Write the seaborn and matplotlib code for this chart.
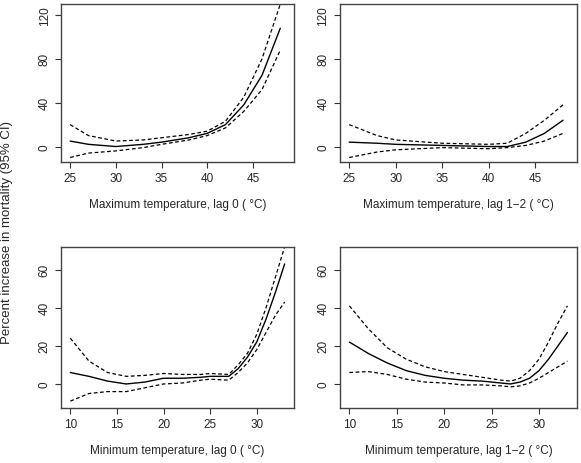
import numpy as np
import pandas as pd
import matplotlib
matplotlib.use("Agg")
import matplotlib.pyplot as plt
import seaborn as sns

# Tmax lag 0
tx0 = [25, 27, 30, 33, 35, 38, 40, 42, 44, 46, 48]
tx0_fit = [5, 2, 0, 2, 4, 8, 12, 20, 38, 65, 108]
tx0_hi = [20, 10, 5, 6, 8, 11, 14, 23, 45, 80, 130]
tx0_lo = [-10, -6, -4, -1, 2, 6, 10, 17, 32, 52, 88]

# Tmax lag 1-2
tx12 = [25, 28, 30, 35, 40, 42, 44, 46, 48]
tx12_fit = [4, 3, 2, 1, 0, 0, 4, 12, 24]
tx12_hi = [20, 10, 6, 3, 2, 3, 12, 24, 38]
tx12_lo = [-10, -5, -3, -1, -2, -1, 1, 5, 12]

# Tmin lag 0
tn0 = [10, 12, 14, 16, 18, 20, 22, 24, 25, 27, 28, 29, 30, 31, 32, 33]
tn0_fit = [6, 4, 1.5, 0, 1, 3, 3, 3.5, 4, 4, 8, 14, 22, 34, 48, 63]
tn0_hi = [24, 12, 6, 4, 4.5, 5.5, 5, 5, 5.5, 5, 10, 16, 26, 40, 56, 72]
tn0_lo = [-9, -5, -4, -4, -2, 0, 0.5, 2, 2.5, 2, 6, 11, 18, 27, 36, 43]

# Tmin lag 1-2
tn12 = [10, 12, 14, 16, 18, 20, 22, 24, 26, 27, 28, 29, 30, 31, 32, 33]
tn12_fit = [22, 16, 11, 7, 4.5, 3, 2, 1.5, 0.5, 0, 1, 3, 7, 13, 20, 27]
tn12_hi = [41, 29, 19, 13, 9, 6.5, 5, 3.5, 2, 1.5, 3, 7, 13, 22, 32, 41]
tn12_lo = [6, 6.5, 5, 2.5, 1, 0.5, -0.5, -0.5, -1, -1.5, -1, 0.5, 3, 6, 9, 12]

panels = [
    (tx0, tx0_fit, tx0_hi, tx0_lo, "Maximum temperature, lag 0 ( °C)", [0.105, 0.649, 0.401, 0.340], (-14, 130), [0, 40, 80, 120], [25, 30, 35, 40, 45], (24, 49.5)),
    (tx12, tx12_fit, tx12_hi, tx12_lo, "Maximum temperature, lag 1−2 ( °C)", [0.585, 0.649, 0.408, 0.340], (-14, 130), [0, 40, 80, 120], [25, 30, 35, 40, 45], (24, 49.5)),
    (tn0, tn0_fit, tn0_hi, tn0_lo, "Minimum temperature, lag 0 ( °C)", [0.105, 0.119, 0.401, 0.347], (-12.5, 72), [0, 20, 40, 60], [10, 15, 20, 25, 30], (9, 34)),
    (tn12, tn12_fit, tn12_hi, tn12_lo, "Minimum temperature, lag 1−2 ( °C)", [0.585, 0.119, 0.408, 0.347], (-12.5, 72), [0, 20, 40, 60], [10, 15, 20, 25, 30], (9, 34)),
]

sns.set_style("ticks")
plt.rcParams['font.family'] = ['Liberation Sans', 'DejaVu Sans']

fig = plt.figure(figsize=(5.81, 4.64), dpi=100)
for x, fit, hi, lo, xlabel, pos, ylim, yt, xt, xlim in panels:
    ax = fig.add_axes(pos)
    df = pd.DataFrame({"x": x, "fit": fit, "hi": hi, "lo": lo})
    sns.lineplot(data=df, x="x", y="fit", ax=ax, color="black", lw=1)
    sns.lineplot(data=df, x="x", y="hi", ax=ax, color="black", lw=0.9, linestyle=(0, (3, 2)))
    sns.lineplot(data=df, x="x", y="lo", ax=ax, color="black", lw=0.9, linestyle=(0, (3, 2)))
    ax.set_xlim(*xlim)
    ax.set_ylim(*ylim)
    ax.set_xticks(xt)
    ax.set_yticks(yt)
    ax.set_yticklabels([str(v) for v in yt], rotation=90, va="center")
    ax.tick_params(labelsize=8.5, length=4, color="#333333")
    ax.set_xlabel(xlabel, fontsize=8.5, labelpad=10)
    ax.set_ylabel("")
    for s in ax.spines.values():
        s.set_visible(True)
        s.set_color("#444444")
        s.set_linewidth(1)

fig.text(0.012, 0.5, "Percent increase in mortality (95% CI)", rotation=90,
         va="center", ha="center", fontsize=9.5)
fig.savefig("out.png", dpi=100)
